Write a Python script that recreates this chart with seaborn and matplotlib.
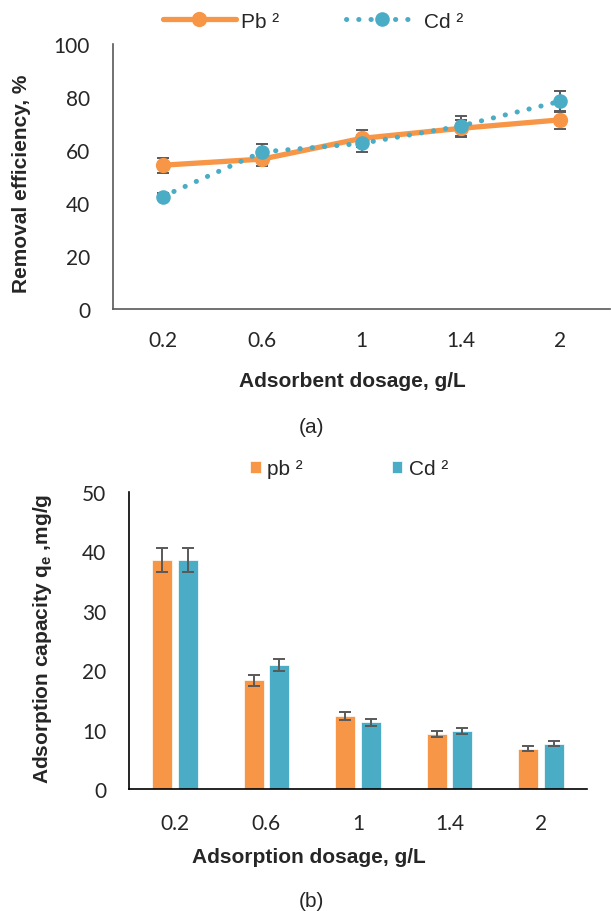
import numpy as np
import pandas as pd
import matplotlib
matplotlib.use("Agg")
import matplotlib.pyplot as plt
import seaborn as sns

dosage = ["0.2", "0.6", "1", "1.4", "2"]

pb_removal = [54.2, 56.5, 64.3, 68.1, 71.3]
cd_removal = [42.4, 59.2, 62.4, 69.0, 78.3]
pb_removal_err = [2.8, 2.5, 3.1, 3.1, 3.5]
cd_removal_err = [1.5, 3.1, 3.1, 3.8, 4.0]

pb_capacity = [38.6, 18.3, 12.3, 9.3, 6.8]
cd_capacity = [38.6, 20.9, 11.2, 9.7, 7.6]
pb_capacity_err = [2.0, 0.9, 0.6, 0.5, 0.4]
cd_capacity_err = [2.0, 1.0, 0.55, 0.5, 0.42]

ORANGE = "#F79646"
TEAL = "#4BACC6"
ERR = "#595959"
TICK_FONT = "Lato"
LABEL_FONT = "Liberation Sans"

sns.set_style("white")
plt.rcParams["font.family"] = [LABEL_FONT, "DejaVu Sans"]

fig = plt.figure(figsize=(6.11, 9.12), dpi=100)

# ---------- (a) removal efficiency ----------
ax1 = fig.add_axes([113 / 611, 1 - 310 / 912, 497 / 611, 265.3 / 912])
df_a = pd.DataFrame({"dosage": dosage, "pb": pb_removal, "cd": cd_removal})

sns.lineplot(data=df_a, x="dosage", y="pb", ax=ax1, color=ORANGE, lw=3.8,
             marker="o", markersize=11, markeredgewidth=0, label="Pb ²",
             zorder=3)
sns.lineplot(data=df_a, x="dosage", y="cd", ax=ax1, color=TEAL, lw=3.6,
             linestyle=(0, (0.05, 2.4)), dash_capstyle="round",
             marker="o", markersize=10.5, markeredgewidth=0, label="Cd ²",
             zorder=4)
xs = np.arange(len(dosage))
ax1.errorbar(xs, pb_removal, yerr=pb_removal_err, fmt="none", ecolor=ERR,
             elinewidth=1.4, capsize=4, capthick=1.4, zorder=2)
ax1.errorbar(xs, cd_removal, yerr=cd_removal_err, fmt="none", ecolor=ERR,
             elinewidth=1.4, capsize=4, capthick=1.4, zorder=2)

ax1.set_xlim(-0.5, len(dosage) - 0.5)
ax1.set_ylim(0, 100)
ax1.set_yticks(range(0, 101, 20))
ax1.set_xticks(xs)
ax1.set_xticks(np.arange(-0.5, len(dosage), 1.0), minor=True)
ax1.set_xticklabels(dosage)
ax1.set_xlabel("Adsorbent dosage, g/L", fontsize=15, fontweight="bold")
ax1.set_ylabel("Removal efficiency, %", fontsize=15, fontweight="bold")
ax1.xaxis.set_label_coords(0.482, -0.268)
ax1.xaxis.label.set_va("center")
ax1.yaxis.set_label_coords(-0.184, 0.477)
ax1.yaxis.label.set_va("center")

h, l = ax1.get_legend_handles_labels()
ax1.legend(h, l, loc="center", bbox_to_anchor=(313 / 611, 1 - 22 / 912),
           bbox_transform=fig.transFigure, ncol=2, frameon=False,
           fontsize=15, handlelength=3.5, handletextpad=0.25,
           columnspacing=3.2)

# ---------- (b) adsorption capacity ----------
ax2 = fig.add_axes([129 / 611, 1 - 790 / 912, 458 / 611, 297 / 912])
df_b = pd.DataFrame({
    "dosage": dosage * 2,
    "metal": ["pb ²"] * len(dosage) + ["Cd ²"] * len(dosage),
    "qe": pb_capacity + cd_capacity,
})
sns.barplot(data=df_b, x="dosage", y="qe", hue="metal", ax=ax2,
            palette=[ORANGE, TEAL], width=0.56, gap=0.22, errorbar=None,
            edgecolor="white", linewidth=0.5, saturation=1)

for cont, errs in zip(ax2.containers, [pb_capacity_err, cd_capacity_err]):
    cx = [b.get_x() + b.get_width() / 2 for b in cont]
    cy = [b.get_height() for b in cont]
    ax2.errorbar(cx, cy, yerr=errs, fmt="none", ecolor=ERR, elinewidth=1.4,
                 capsize=4.5, capthick=1.4, zorder=3)

ax2.set_xlim(-0.5, len(dosage) - 0.5)
ax2.set_ylim(0, 50)
ax2.set_yticks(range(0, 51, 10))
ax2.set_xticks(xs)
ax2.set_xticks(np.arange(-0.5, len(dosage), 1.0), minor=True)
ax2.set_xticklabels(dosage)
ax2.set_xlabel("Adsorption dosage, g/L", fontsize=15, fontweight="bold")
ax2.set_ylabel("Adsorption capacity q$_\\mathregular{e}$ ,mg/g", fontsize=15,
               fontweight="bold")
ax2.xaxis.set_label_coords(0.392, -0.228)
ax2.xaxis.label.set_va("center")
ax2.yaxis.set_label_coords(-0.188, 0.508)
ax2.yaxis.label.set_va("center")

h, l = ax2.get_legend_handles_labels()
ax2.legend(h, l, loc="center", bbox_to_anchor=(349 / 611, 1 - 470 / 912),
           bbox_transform=fig.transFigure, ncol=2, frameon=False,
           fontsize=15, handlelength=0.5, handleheight=0.5,
           handletextpad=0.3, columnspacing=4.3)

# ---------- shared axis styling ----------
for ax, spine_col, xpad in [(ax1, "#595959", 10), (ax2, "#000000", 12)]:
    sns.despine(ax=ax)
    for s in ["left", "bottom"]:
        ax.spines[s].set_color(spine_col)
        ax.spines[s].set_linewidth(1.2)
    ax.tick_params(axis="both", which="both", direction="out",
                   color=spine_col, width=1.2)
    ax.tick_params(axis="x", which="both", length=5)
    ax.tick_params(axis="y", length=5.5, pad=11)
    ax.tick_params(axis="x", pad=xpad)
    for t in ax.get_xticklabels() + ax.get_yticklabels():
        t.set_fontfamily(TICK_FONT)
        t.set_fontsize(15)

fig.text(311 / 611, 1 - 428 / 912, "(a)", ha="center", va="center",
         fontsize=15)
fig.text(311 / 611, 1 - 902 / 912, "(b)", ha="center", va="center",
         fontsize=15)

fig.savefig("out.png", dpi=100)
